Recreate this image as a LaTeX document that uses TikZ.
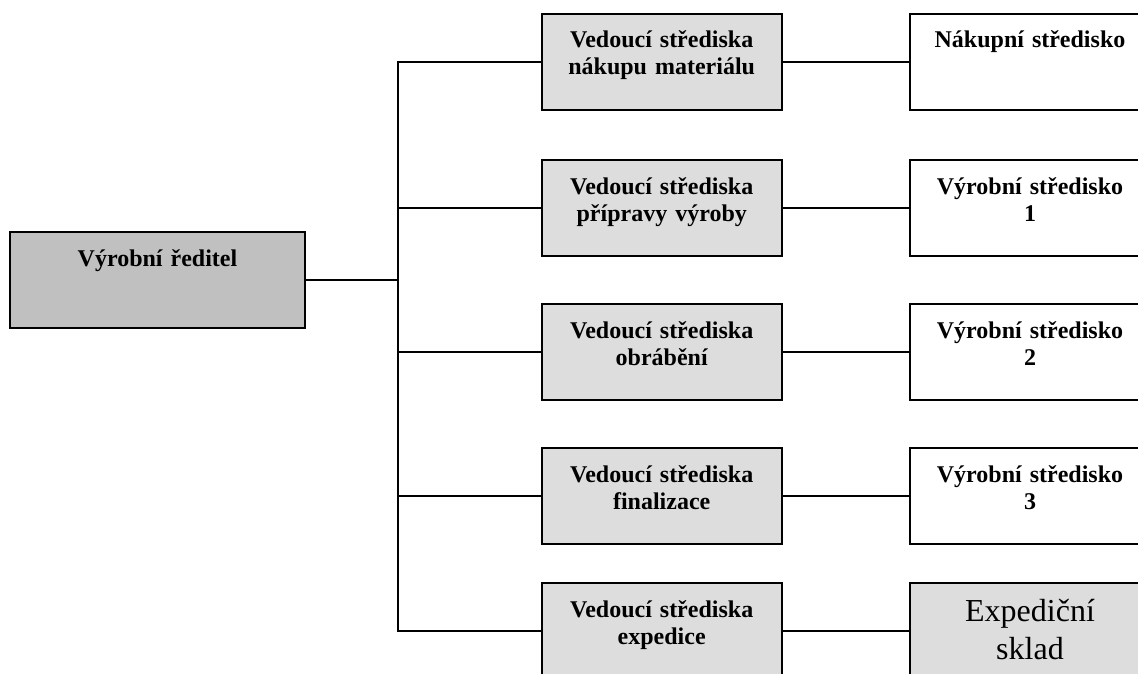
\documentclass[tikz,border=0pt]{standalone}
\usepackage{fontspec}
\setmainfont{Liberation Serif}
\definecolor{boss}{HTML}{C0C0C0}
\definecolor{mgr}{HTML}{DDDDDD}
\tikzset{
  box/.style={draw, line width=2pt, inner sep=0pt, outer sep=0pt, text width=240pt, align=center,
    text height=34pt, text depth=62pt, font=\bfseries\fontsize{24}{27}\selectfont},
  mgrbox/.style={box, fill=mgr},
  unitbox/.style={box, fill=white},
  bossbox/.style={box, fill=boss, text width=295pt},
  storebox/.style={box, fill=mgr, text height=38pt, text depth=58pt,
    font=\fontsize{32}{38}\selectfont},
  wire/.style={line width=1.7pt}
}
\begin{document}
\begin{tikzpicture}[x=1pt,y=1pt]
\useasboundingbox (0,0) rectangle (1138,-674);
\clip (0,0) rectangle (1138,-674);
\fill[white] (0,0) rectangle (1138,-674);

\node[bossbox, anchor=north west] (boss) at (10,-232) {Výrobní ředitel};

\node[mgrbox, anchor=north west] (m1) at (541.7,-14) {Vedoucí střediska\\nákupu materiálu};
\node[mgrbox, anchor=north west] (m2) at (541.7,-160) {Vedoucí střediska\\přípravy výroby};
\node[mgrbox, anchor=north west] (m3) at (541.7,-304) {Vedoucí střediska\\obrábění};
\node[mgrbox, anchor=north west] (m4) at (541.7,-448) {Vedoucí střediska\\finalizace};
\node[mgrbox, anchor=north west] (m5) at (541.7,-583) {Vedoucí střediska\\expedice};

\node[unitbox, anchor=north west] (r1) at (910,-14) {Nákupní středisko};
\node[unitbox, anchor=north west] (r2) at (910,-160) {Výrobní středisko\\1};
\node[unitbox, anchor=north west] (r3) at (910,-304) {Výrobní středisko\\2};
\node[unitbox, anchor=north west] (r4) at (910,-448) {Výrobní středisko\\3};
\node[storebox, anchor=north west] (r5) at (910,-583) {Expediční\\sklad};

\coordinate (bx) at (397.7,0);
\draw[wire] (boss.east) -- (boss.east -| bx);
\draw[wire] (m1.west) -- (m1.west -| bx) -- (m5.west -| bx) -- (m5.west);
\foreach \k in {2,3,4} {
  \draw[wire] (m\k.west -| bx) -- (m\k.west);
}
\foreach \k in {1,...,5} {
  \draw[wire] (m\k.east) -- (r\k.west);
}
\end{tikzpicture}
\end{document}
